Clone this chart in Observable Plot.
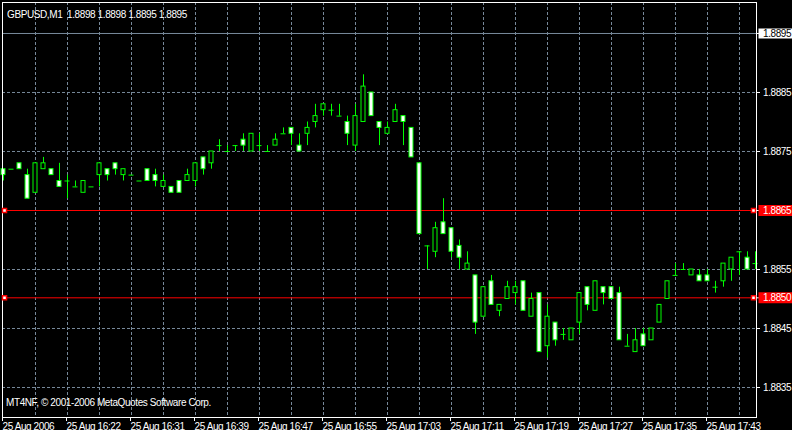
<!DOCTYPE html>
<html><head><meta charset="utf-8">
<script src="https://cdn.jsdelivr.net/npm/d3@7"></script>
<script src="https://cdn.jsdelivr.net/npm/@observablehq/plot@0.6"></script>
<style>html,body{margin:0;padding:0;background:#000;overflow:hidden}</style>
</head><body><div id="chart"></div>
<script>
// ---- data ----
const titleText = "GBPUSD,M1  1.8898 1.8898 1.8895 1.8895";
const copyrightText = "MT4NF, \u00a9 2001-2006 MetaQuotes Software Corp.";

const opens = [1.8872,1.8872,1.8873,1.8871,1.8868,1.8872,1.8872,1.8870,1.8870,1.8869,
  1.8868,1.8869,1.8871,1.8872,1.8873,1.8871,1.8871,1.8870,1.8872,1.8871,
  1.8869,1.8869,1.8870,1.8870,1.8870,1.8874,1.8873,1.8876,1.8875,1.8876,
  1.8877,1.8875,1.8876,1.8875,1.8876,1.8878,1.8879,1.8876,1.8878,1.8880,
  1.8882,1.8882,1.8881,1.8880,1.8876,1.8880,1.8885,1.8880,1.8878,1.8880,
  1.8881,1.8879,1.8873,1.8859,1.8858,1.8863,1.8862,1.8859,1.8855,1.8854,
  1.8847,1.8853,1.8848,1.8850,1.8851,1.8853,1.8847,1.8851,1.8842,1.8846,
  1.8844,1.8843,1.8846,1.8852,1.8848,1.8852,1.8852,1.8851,1.8842,1.8841,
  1.8844,1.8843,1.8846,1.8850,1.8854,1.8855,1.8854,1.8854,1.8854,1.8852,
  1.8853,1.8855,1.8858,1.8857,1.8856];
const highs = [1.8872,1.8872,1.8873,1.8872,1.8873,1.8874,1.8872,1.8873,1.8871,1.8870,
  1.8870,1.8869,1.8873,1.8872,1.8873,1.8872,1.8871,1.8870,1.8872,1.8872,
  1.8871,1.8869,1.8870,1.8872,1.8873,1.8874,1.8875,1.8877,1.8876,1.8876,
  1.8878,1.8878,1.8878,1.8876,1.8878,1.8879,1.8879,1.8878,1.8880,1.8883,
  1.8883,1.8883,1.8883,1.8881,1.8883,1.8888,1.8885,1.8880,1.8880,1.8883,
  1.8881,1.8879,1.8873,1.8859,1.8863,1.8867,1.8862,1.8860,1.8858,1.8854,
  1.8852,1.8854,1.8849,1.8853,1.8853,1.8853,1.8851,1.8851,1.8849,1.8846,
  1.8845,1.8845,1.8851,1.8852,1.8853,1.8852,1.8852,1.8852,1.8844,1.8845,
  1.8845,1.8845,1.8849,1.8853,1.8856,1.8856,1.8855,1.8855,1.8855,1.8853,
  1.8856,1.8857,1.8858,1.8858,1.8858];
const lows = [1.8870,1.8872,1.8872,1.8867,1.8868,1.8872,1.8871,1.8869,1.8867,1.8869,
  1.8868,1.8869,1.8869,1.8870,1.8871,1.8870,1.8871,1.8870,1.8870,1.8869,
  1.8869,1.8868,1.8868,1.8870,1.8869,1.8871,1.8872,1.8875,1.8875,1.8875,
  1.8875,1.8875,1.8875,1.8875,1.8876,1.8878,1.8876,1.8875,1.8876,1.8879,
  1.8881,1.8881,1.8881,1.8876,1.8875,1.8880,1.8881,1.8876,1.8878,1.8880,
  1.8876,1.8874,1.8861,1.8855,1.8857,1.8861,1.8857,1.8855,1.8855,1.8844,
  1.8847,1.8849,1.8847,1.8850,1.8849,1.8848,1.8847,1.8841,1.8840,1.8842,
  1.8843,1.8843,1.8844,1.8848,1.8848,1.8849,1.8850,1.8843,1.8842,1.8841,
  1.8842,1.8843,1.8846,1.8850,1.8854,1.8855,1.8854,1.8853,1.8853,1.8851,
  1.8852,1.8853,1.8854,1.8855,1.8855];
const closes = [1.8871,1.8872,1.8872,1.8867,1.8873,1.8873,1.8871,1.8869,1.8870,1.8869,
  1.8870,1.8869,1.8873,1.8871,1.8872,1.8872,1.8871,1.8870,1.8870,1.8870,
  1.8870,1.8868,1.8868,1.8871,1.8873,1.8872,1.8875,1.8876,1.8875,1.8876,
  1.8876,1.8878,1.8876,1.8875,1.8877,1.8878,1.8878,1.8875,1.8879,1.8881,
  1.8883,1.8882,1.8881,1.8878,1.8881,1.8886,1.8881,1.8879,1.8879,1.8882,
  1.8880,1.8874,1.8861,1.8859,1.8862,1.8861,1.8858,1.8857,1.8856,1.8846,
  1.8852,1.8849,1.8849,1.8852,1.8852,1.8848,1.8850,1.8841,1.8847,1.8843,
  1.8844,1.8845,1.8851,1.8849,1.8853,1.8851,1.8850,1.8843,1.8842,1.8843,
  1.8842,1.8845,1.8849,1.8853,1.8854,1.8855,1.8855,1.8853,1.8853,1.8852,
  1.8856,1.8857,1.8858,1.8855,1.8856];

const timeLabels = ["25 Aug 2006","25 Aug 16:22","25 Aug 16:31","25 Aug 16:39","25 Aug 16:47","25 Aug 16:55",
  "25 Aug 17:03","25 Aug 17:11","25 Aug 17:19","25 Aug 17:27","25 Aug 17:35","25 Aug 17:43"];
const timeLabelBars = [0,8,16,24,32,40,48,56,64,72,80,88];
const gridBars = [4,8,12,16,20,24,28,32,36,40,44,48,52,56,60,64,68,72,76,80,84,88,92];
const gridPrices = [1.8835,1.8845,1.8855,1.8865,1.8875,1.8885,1.8895];
const priceLabels = [1.8885,1.8875,1.8855,1.8845,1.8835];
const bidPrice = [1.8895];
const redLines = [1.8865,1.88502];

// ---- build ----
const bars = opens.map((o, i) => ({i, o, h: highs[i], l: lows[i], c: closes[i]}));
const W = 792, H = 430, ML = 2, MR = 36, MT = 2, MB = 13;
const xDom = [-0.125, 94.125];
const pxPerBar = (W - ML - MR) / (xDom[1] - xDom[0]);
const yDom = [1.88299153, 1.89002542];
const GREEN = "#00ff00", GRID = "#778899";
const xr = xDom[1];
const toBar = px => px / pxPerBar;

const chart = Plot.plot({
  width: W, height: H,
  marginLeft: ML, marginRight: MR, marginTop: MT, marginBottom: MB,
  style: {background: "#000", color: "#fff", fontFamily: "'Liberation Sans', Arial, sans-serif", fontSize: "10px", letterSpacing: "-0.4px", whiteSpace: "pre"},
  x: {domain: xDom, axis: null},
  y: {domain: yDom, axis: null},
  marks: [
    Plot.ruleY(gridPrices, {stroke: GRID, strokeDasharray: "3,2"}),
    Plot.ruleX(gridBars, {stroke: GRID, strokeDasharray: "3,2"}),
    Plot.ruleY(bidPrice, {stroke: GRID}),
    Plot.ruleY(redLines, {stroke: "#ff0000"}),
    Plot.ruleX(bars, {x: "i", y1: "l", y2: "h", stroke: GREEN}),
    Plot.rect(bars.filter(d => d.o !== d.c), {
      x1: d => d.i - 0.25, x2: d => d.i + 0.25, y1: "o", y2: "c",
      fill: d => d.c < d.o ? "#ffffff" : "#000000", stroke: GREEN
    }),
    Plot.ruleY(bars.filter(d => d.o === d.c), {y: "o", x1: d => d.i - 0.3125, x2: d => d.i + 0.3125, stroke: GREEN}),
    Plot.frame({stroke: "#ffffff"}),
    Plot.dot(redLines.flatMap(p => [{x: xDom[0] + toBar(2), y: p}, {x: xr - toBar(3), y: p}]),
      {x: "x", y: "y", symbol: "square", r: 2.3, fill: "#ffffff", stroke: "#ff0000"}),
    Plot.axisX(timeLabelBars, {tickFormat: d => timeLabels[timeLabelBars.indexOf(d)], tickSize: 4, tickPadding: 1,
      textAnchor: "start", dx: -1, color: "#ffffff"}),
    // right price scale
    Plot.ruleY(priceLabels.concat(bidPrice, redLines), {y: d => d, x1: xr, x2: xr + toBar(4), stroke: "#ffffff"}),
    Plot.ruleY(bidPrice, {y: d => d, x1: xr + toBar(2.5), x2: xr + toBar(36), stroke: "#ffffff", strokeWidth: 10}),
    Plot.ruleY(redLines, {y: d => d, x1: xr + toBar(2.5), x2: xr + toBar(36), stroke: "#ff0000", strokeWidth: 11}),
    Plot.text(priceLabels, {y: d => d, text: d => d.toFixed(4), frameAnchor: "right", dx: 6.5, textAnchor: "start", fill: "#ffffff"}),
    Plot.text(bidPrice, {y: d => d, text: d => d.toFixed(4), frameAnchor: "right", dx: 6.5, textAnchor: "start", fill: "#000000"}),
    Plot.text(redLines, {y: d => d, text: d => d.toFixed(4), frameAnchor: "right", dx: 6.5, textAnchor: "start", fill: "#ffffff"}),
    // title and copyright
    Plot.text([titleText], {frameAnchor: "top-left", dx: 4.5, dy: 8.5, textAnchor: "start", fill: "#ffffff"}),
    Plot.text([copyrightText], {frameAnchor: "bottom-left", dx: 3.5, dy: -11.5, textAnchor: "start", fill: "#ffffff"})
  ]
});
document.getElementById("chart").appendChild(chart);
</script>
</body></html>
